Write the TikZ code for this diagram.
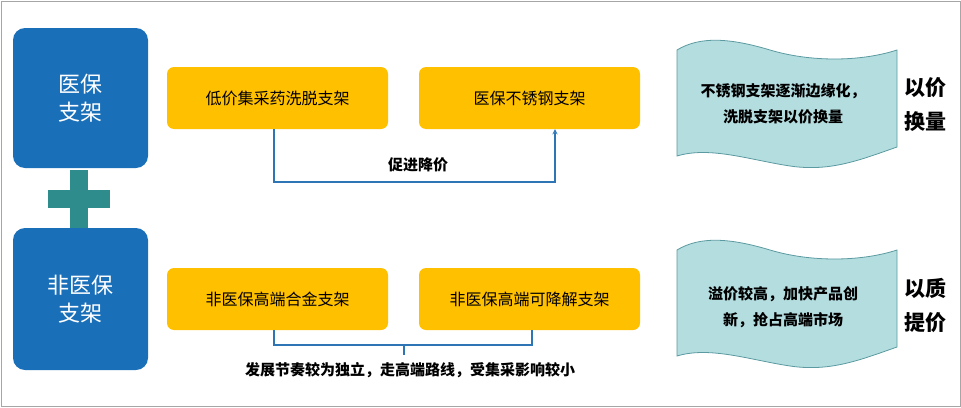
\documentclass[tikz,border=0pt]{standalone}
\usepackage{fontspec}
\setmainfont{Noto Sans CJK SC}
\begin{document}
\begin{tikzpicture}[x=1pt,y=-1pt,
  bluebox/.style={draw=none,fill=blueA,rounded corners=12pt,text=white,font=\fontsize{22}{28}\selectfont,align=center},
  ybox/.style={fill=yel,rounded corners=7pt,minimum width=221pt,minimum height=62pt,font=\fontsize{16}{20}\selectfont,inner sep=0pt},
  conn/.style={draw=lineB,line width=1.3pt},
  banner/.style={fill=ban,draw=banD,line width=0.8pt},
  btxt/.style={font=\bfseries\fontsize{15}{26}\selectfont,align=center},
  rtxt/.style={font=\bfseries\fontsize{21}{34}\selectfont,align=center}]
\definecolor{blueA}{HTML}{1A6FB9}
\definecolor{yel}{HTML}{FFC000}
\definecolor{lineB}{HTML}{2E75B6}
\definecolor{ban}{HTML}{B4DDE0}
\definecolor{banD}{HTML}{5B9AA0}
\definecolor{teal}{HTML}{2E8C8C}
\useasboundingbox (0,0) rectangle (961,407);
\draw[gray!70,line width=1pt] (1,1) rectangle (960,406);
% left blue boxes
\node[bluebox,minimum width=135pt,minimum height=140pt] (yb) at (80.5,98) {医保\\支架};
\node[bluebox,minimum width=135pt,minimum height=142pt] (fyb) at (80.5,299) {非医保\\支架};
% plus
\fill[teal] (70,170) rectangle (88,228);
\fill[teal] (48,190) rectangle (110,208);
% yellow boxes
\node[ybox] (a) at (277.5,98) {低价集采药洗脱支架};
\node[ybox] (b) at (529.5,98) {医保不锈钢支架};
\node[ybox] (c) at (277.5,299) {非医保高端合金支架};
\node[ybox] (d) at (529.5,299) {非医保高端可降解支架};
% connectors
\coordinate (k1) at (274,182);
\coordinate (k2) at (555,182);
\draw[conn,->,>={stealth}] (a.south -| k1) -- (k1) -- (k2) -- (b.south -| k2);
\node[font=\bfseries\fontsize{15}{18}\selectfont] (lbl1) at (418,165) {促进降价};
\coordinate (m1) at (274,345);
\coordinate (m2) at (532,345);
\coordinate (mc) at (404,345);
\coordinate (md) at (404,355);
\draw[conn] (c.south -| m1) -- (m1) -- (m2) -- (d.south -| m2);
\draw[conn] (mc) -- (md);
\node[font=\bfseries\fontsize{15}{18}\selectfont] (lbl2) at (410,370) {发展节奏较为独立，走高端路线，受集采影响较小};
% banners
\foreach \dy/\nm in {0/ban1,200/ban2}{
 \draw[banner,shift={(0,\dy)}] (677,50) .. controls (700,36) and (730,38) .. (770,50)
   .. controls (810,62) and (860,62) .. (897,50)
   -- (897,147) .. controls (860,160) and (830,172) .. (790,166)
   .. controls (750,160) and (710,146) .. (677,156) -- cycle;
}
\node[btxt] (t1) at (783,104) {不锈钢支架逐渐边缘化，\\洗脱支架以价换量};
\node[btxt] (t2) at (783,307) {溢价较高，加快产品创\\新，抢占高端市场};
\node[rtxt] (r1) at (925,105) {以价\\换量};
\node[rtxt] (r2) at (925,305) {以质\\提价};
\end{tikzpicture}
\end{document}
